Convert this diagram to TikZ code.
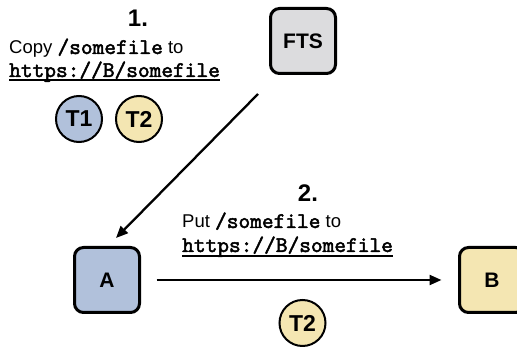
\documentclass[tikz,border=0pt]{standalone}
\usepackage{fontspec}
\setmainfont{Liberation Sans}
\newfontfamily\codefont[FakeBold=2.2]{lmmono10-regular.otf}
\usetikzlibrary{arrows.meta}

\definecolor{ftsgray}{HTML}{DCDCDE}
\definecolor{siteblue}{HTML}{B1C1DB}
\definecolor{siteyellow}{HTML}{F4E6B2}

\tikzset{
  sitebox/.style={draw=black, line width=3pt, rounded corners=9pt,
    minimum width=65pt, minimum height=65pt, inner sep=0pt,
    font=\fontsize{21}{21}\selectfont\bfseries},
  token/.style={circle, draw=black, line width=2pt, minimum size=46pt,
    inner sep=0pt, font=\fontsize{23}{23}\selectfont\bfseries},
  flow/.style={line width=2.3pt, -{Triangle[length=12pt,width=10pt]}},
  steplabel/.style={inner sep=0pt, font=\fontsize{24}{24}\selectfont\bfseries},
  caption/.style={inner sep=0pt, anchor=base west, font=\fontsize{18.5}{18.5}\selectfont},
  uline/.style={line width=1.5pt}
}
\newcommand{\code}[1]{{\codefont\fontsize{22.3}{22.3}\selectfont #1}}

\begin{document}
\begin{tikzpicture}[x=1pt, y=-1pt]
  \useasboundingbox (0,0) rectangle (517,347);
  \begin{scope}
    \clip (0,0) rectangle (517,347);

    % hosts
    \node[sitebox, fill=ftsgray]    (fts) at (303,41)  {FTS};
    \node[sitebox, fill=siteblue]   (a)   at (107,280) {A};
    \node[sitebox, fill=siteyellow] (b)   at (492,280) {B};

    % step 1: third-party copy
    \node[steplabel] (s1) at (138,18.5) {1.};
    \node[caption] (c1a) at (9,54) {Copy \code{/somefile} to};
    \node[caption] (c1b) at (9,77) {\code{https://B/somefile}};
    \draw[uline] ([yshift=-3pt]c1b.base west) -- ([yshift=-3pt]c1b.base east);
    \node[token, fill=siteblue]   (t1)  at (79,119)  {T1};
    \node[token, fill=siteyellow] (t2)  at (139,119) {T2};

    % step 2: push to B
    \node[steplabel] (s2) at (308,193.5) {2.};
    \node[caption] (c2a) at (182,228) {Put \code{/somefile} to};
    \node[caption] (c2b) at (182,252) {\code{https://B/somefile}};
    \draw[uline] ([yshift=-4pt]c2b.base west) -- ([yshift=-4pt]c2b.base east);
    \node[token, fill=siteyellow] (t2b) at (302.5,323) {T2};

    % transfers
    \draw[flow] ([xshift=-45pt,yshift=-19pt]fts.south) -- ([xshift=9pt,yshift=8pt]a.north);
    \draw[flow] ([xshift=15.5pt]a.east) -- ([xshift=-16.5pt]b.west);
  \end{scope}
\end{tikzpicture}
\end{document}
